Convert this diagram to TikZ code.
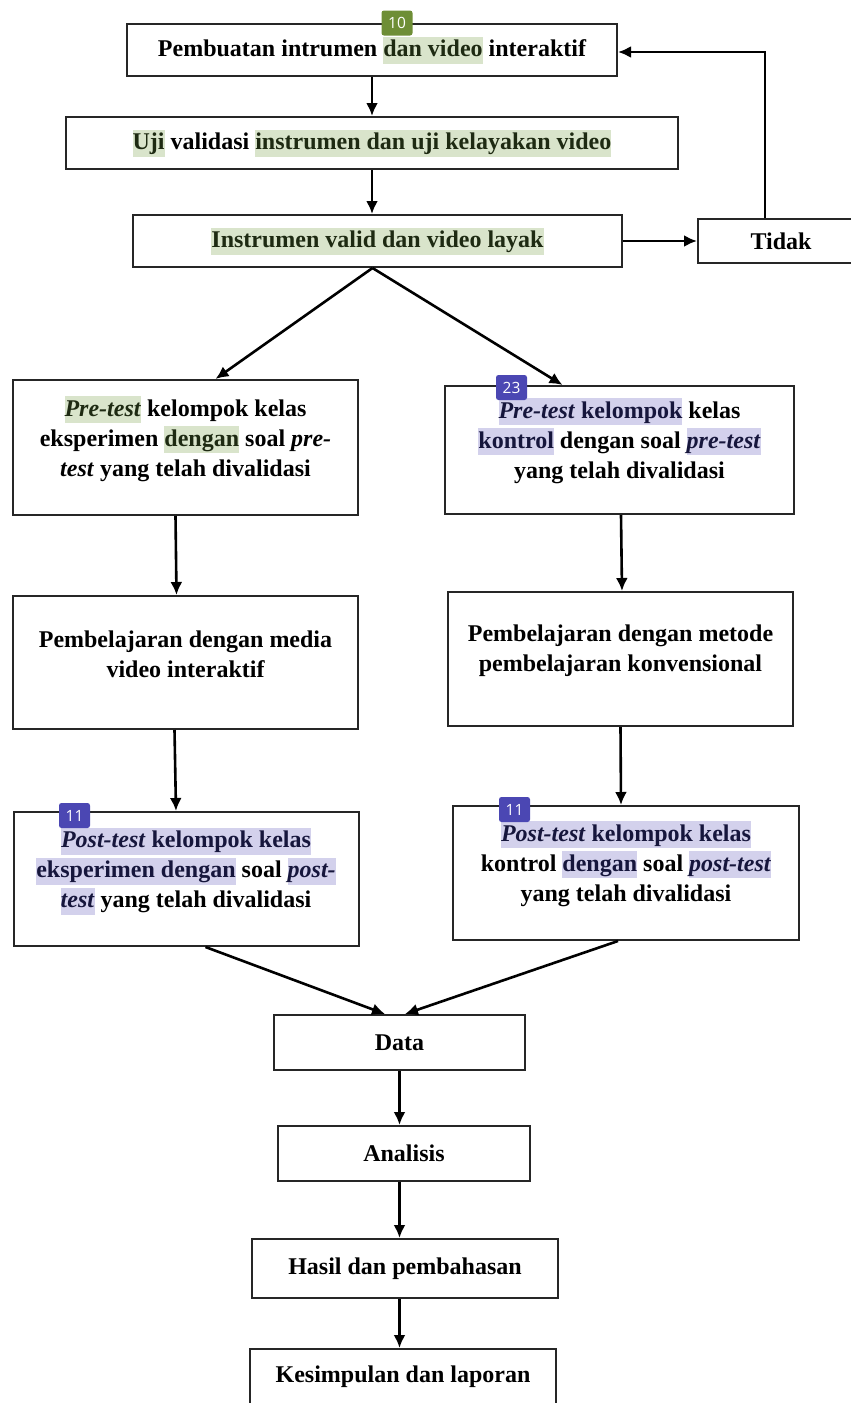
\documentclass[tikz,border=0pt]{standalone}
\usepackage{fontspec}
\setmainfont{Liberation Serif}
\newfontfamily\badgefont{Open Sans}
\usetikzlibrary{arrows.meta}

\definecolor{hlgreen}{HTML}{D9E4CB}
\definecolor{hlpurple}{HTML}{D3D1EC}
\definecolor{inkgreen}{HTML}{1E2A12}
\definecolor{inkpurple}{HTML}{16163C}
\definecolor{badgegreen}{HTML}{6E8E36}
\definecolor{badgepurple}{HTML}{4B47B3}

\newcommand{\hlg}[1]{{\setlength{\fboxsep}{0pt}\colorbox{hlgreen}{\color{inkgreen}\rule[-7pt]{0pt}{27pt}#1}}}
\newcommand{\hlp}[1]{{\setlength{\fboxsep}{0pt}\colorbox{hlpurple}{\color{inkpurple}\rule[-7pt]{0pt}{27pt}#1}}}

\tikzset{
  box/.style={draw=black!85,line width=2pt,inner sep=0pt},
  txt/.style={align=center,font=\bfseries\fontsize{24}{30}\selectfont,inner sep=0pt},
  flow/.style={line width=2.6pt,-{Latex[length=13pt,width=12pt]}},
  badge/.style={fill=#1,rounded corners=2.5pt,text=white,inner sep=0pt,
    font=\badgefont\fontsize{15.5}{15.5}\selectfont,minimum width=31pt,minimum height=25pt}
}

\begin{document}
\begin{tikzpicture}[x=1pt,y=-1pt]
  \useasboundingbox (0,0) rectangle (851,1403);
  \clip (0,0) rectangle (851,1403);

  \node[box,txt,minimum width=490pt,minimum height=52pt] (make) at (372,50)
    {Pembuatan intrumen \hlg{dan video} interaktif};
  \node[box,txt,minimum width=612pt,minimum height=52pt] (test) at (372,143)
    {\hlg{Uji} validasi \hlg{instrumen dan uji kelayakan video}};
  \node[box,txt,minimum width=489pt,minimum height=52pt] (valid) at (377.5,241)
    {\hlg{Instrumen valid dan video layak}};
  \node[box,txt,minimum width=166pt,minimum height=44pt] (tidak) at (781,241) {Tidak};

  \node[box,minimum width=345pt,minimum height=135pt] (preA) at (185.5,447.5) {};
  \node[txt] (preAtxt) at (185.5,439)
    {\hlg{\textit{Pre-test}} kelompok kelas\\
     eksperimen \hlg{dengan} soal \textit{pre-}\\
     \textit{test} yang telah divalidasi};
  \node[box,minimum width=349pt,minimum height=128pt] (preB) at (619.5,450) {};
  \node[txt] (preBtxt) at (619.5,441)
    {\hlp{\textit{Pre-test} kelompok} kelas\\
     \hlp{kontrol} dengan soal \hlp{\textit{pre-test}}\\
     yang telah divalidasi};

  \node[box,minimum width=345pt,minimum height=133pt] (learnA) at (185.5,662.5) {};
  \node[txt] (learnAtxt) at (185.5,654.5)
    {Pembelajaran dengan media\\ video interaktif};
  \node[box,minimum width=345pt,minimum height=134pt] (learnB) at (620.5,659) {};
  \node[txt] (learnBtxt) at (620.5,651)
    {Pembelajaran dengan metode\\ pembelajaran konvensional};

  \node[box,minimum width=345pt,minimum height=134pt] (postA) at (186,879) {};
  \node[txt] (postAtxt) at (186,871)
    {\hlp{\textit{Post-test} kelompok kelas}\\
     \hlp{eksperimen dengan} soal \hlp{\textit{post-}}\\
     \hlp{\textit{test}} yang telah divalidasi};
  \node[box,minimum width=346pt,minimum height=134pt] (postB) at (626,873) {};
  \node[txt] (postBtxt) at (626,864)
    {\hlp{\textit{Post-test} kelompok kelas}\\
     kontrol \hlp{dengan} soal \hlp{\textit{post-test}}\\
     yang telah divalidasi};

  \node[box,txt,minimum width=251pt,minimum height=55pt] (data) at (399.5,1042.5) {Data};
  \node[box,txt,minimum width=252pt,minimum height=55pt] (ana) at (404,1153.5) {Analisis};
  \node[box,txt,minimum width=306pt,minimum height=59pt] (hasil) at (405,1268.5) {Hasil dan pembahasan};
  \node[box,txt,minimum width=306pt,minimum height=56pt] (kes) at (403,1377) {Kesimpulan dan laporan};

  \draw[flow] (make.south) -- (make.south |- test.north);
  \draw[flow] (test.south) -- (test.south |- valid.north);
  \draw[flow] (valid.east) -- (tidak.west);
  \draw[flow] ([xshift=-16pt]tidak.north) |- ([yshift=-2pt]make.east);
  \draw[flow] ([xshift=-5pt]valid.south) -- ([xshift=30pt]preA.north);
  \draw[flow] ([xshift=-5pt]valid.south) -- ([xshift=-57pt]preB.north);
  \draw[flow] ([xshift=-10pt]preA.south) -- ([xshift=-9pt]learnA.north);
  \draw[flow] ([xshift=1.5pt]preB.south) -- ([xshift=1.5pt]learnB.north);
  \draw[flow] ([xshift=-11pt]learnA.south) -- ([xshift=-10pt]postA.north);
  \draw[flow] (learnB.south) -- ([xshift=-5pt]postB.north);
  \draw[flow] ([xshift=19.5pt]postA.south) -- ([xshift=-14.5pt]data.north);
  \draw[flow] ([xshift=-8pt]postB.south) -- ([xshift=5.5pt]data.north);
  \draw[flow] (data.south) -- (data.south |- ana.north);
  \draw[flow] (data.south |- ana.south) -- (data.south |- hasil.north);
  \draw[flow] (data.south |- hasil.south) -- (data.south |- kes.north);

  \node[badge=badgegreen] (b10) at (397,23) {10};
  \node[badge=badgepurple] (b23) at (511.5,387.5) {23};
  \node[badge=badgepurple] (b11a) at (74.5,815.5) {11};
  \node[badge=badgepurple] (b11b) at (514.5,809.5) {11};
\end{tikzpicture}
\end{document}
